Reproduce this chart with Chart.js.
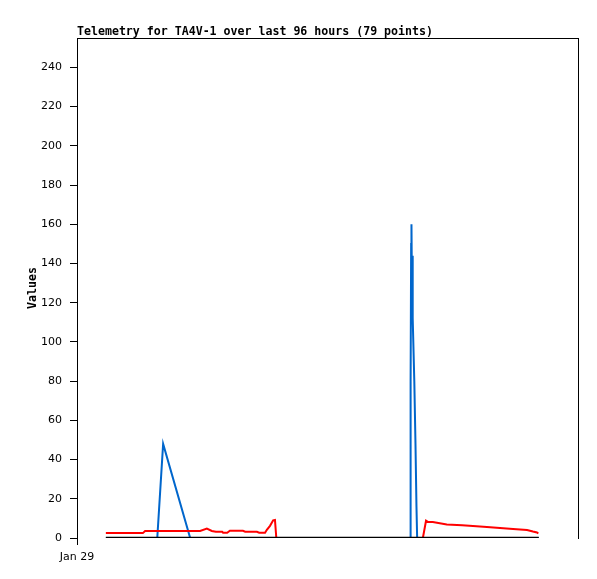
<!DOCTYPE html>
<html>
<head>
<meta charset="utf-8">
<title>Telemetry</title>
<script src="https://cdn.jsdelivr.net/npm/chart.js@4/dist/chart.umd.min.js"></script>
<style>
  body { margin: 0; background: #fff; }
  canvas { display: block; }
</style>
</head>
<body>
<canvas id="telemetryChart" width="597" height="579"></canvas>
<script>
// hours since Jan 29 00:00
const chartTitle = 'Telemetry for TA4V-1 over last 96 hours (79 points)';
const xTickLabels = ['Jan 29'];
const yTicks = [0, 20, 40, 60, 80, 100, 120, 140, 160, 180, 200, 220, 240];

const redHours = [6.4, 14.6, 15.1, 27.3, 28.8, 29.9, 30.8, 32.2, 32.4, 33.3, 33.9, 36.8, 37.3, 39.9, 40.4, 41.7, 42.1, 42.8, 43.5, 43.9, 44.2, 55.0, 65.0, 76.7, 77.4, 77.8, 78.9, 82.0, 85.4, 87.8, 90.9, 93.8, 96.7, 99.8, 101.1, 102.0, 102.3];
const redValues = [2.5, 2.5, 3.6, 3.6, 4.8, 3.6, 3.2, 3.2, 2.7, 2.7, 3.7, 3.7, 3.2, 3.2, 2.7, 2.7, 4.2, 6.2, 9.0, 9.2, 0, 0, 0, 0, 8.8, 8.2, 8.2, 6.9, 6.5, 6.1, 5.6, 5.1, 4.6, 4.1, 3.3, 2.8, 2.3];

const blueHours = [6.4, 17.8, 19.1, 25.1, 50.0, 73.9, 73.98, 74.1, 74.17, 74.3, 74.39, 74.5, 74.8, 75.06, 75.28, 75.43, 90.0, 102.4];
const blueValues = [0, 0, 48, 0, 0, 0, 80, 150, 160, 120, 144, 112, 80, 48, 16, 0, 0, 0];

const baseHours = [6.4, 30.0, 60.0, 90.0, 102.4];
const baseValues = [0, 0, 0, 0, 0];

function toPoints(xs, ys) {
    return xs.map((x, i) => ({ x: x, y: ys[i] }));
}

const monoBold = { family: '"DejaVu Sans Mono", monospace', size: 11.6, weight: 'bold' };
const tickFont = { family: '"DejaVu Sans", sans-serif', size: 11 };

// title sits on the left edge of the plot, not the canvas
const titlePlugin = {
    id: 'topTitle',
    afterDraw(chart) {
        const ctx = chart.ctx;
        ctx.save();
        ctx.font = 'bold 11.6px "DejaVu Sans Mono", monospace';
        ctx.fillStyle = '#000';
        ctx.textAlign = 'left';
        ctx.textBaseline = 'alphabetic';
        ctx.fillText(chartTitle, chart.chartArea.left, chart.chartArea.top - 3);
        ctx.restore();
    }
};

const ctx = document.getElementById('telemetryChart').getContext('2d');
new Chart(ctx, {
    type: 'line',
    data: {
        datasets: [
            {
                label: 'base',
                data: toPoints(baseHours, baseValues),
                borderColor: '#000000',
                borderWidth: 2.5,
                pointRadius: 0,
                order: 0
            },
            {
                label: 'red',
                data: toPoints(redHours, redValues),
                borderColor: '#ff0000',
                borderWidth: 2,
                pointRadius: 0,
                order: 1
            },
            {
                label: 'blue',
                data: toPoints(blueHours, blueValues),
                borderColor: '#0066cc',
                borderWidth: 2,
                pointRadius: 0,
                order: 2
            }
        ]
    },
    options: {
        responsive: false,
        animation: false,
        layout: { padding: { left: 0, top: 38, right: 19, bottom: 0 } },
        plugins: {
            legend: { display: false },
            tooltip: { enabled: false },
            title: { display: false }
        },
        elements: { line: { tension: 0 } },
        scales: {
            x: {
                type: 'linear',
                position: 'bottom',
                min: 0,
                max: 111.1,
                afterBuildTicks: (scale) => { scale.ticks = [{ value: 0 }]; },
                afterFit: (scale) => { scale.height = 41; },
                ticks: {
                    color: '#000',
                    font: tickFont,
                    padding: 6,
                    maxRotation: 0,
                    callback: (v, i) => xTickLabels[i]
                },
                grid: { drawOnChartArea: false, tickLength: 7, color: '#000' },
                border: { display: false }
            },
            xTop: {
                type: 'linear',
                position: 'top',
                min: 0,
                max: 111.1,
                ticks: { display: false },
                grid: { display: false },
                border: { display: true, color: '#000', width: 1 },
                afterFit: (scale) => { scale.height = 0; }
            },
            y: {
                position: 'left',
                min: 0,
                max: 255,
                afterBuildTicks: (scale) => { scale.ticks = yTicks.map(v => ({ value: v })); },
                afterFit: (scale) => { scale.width = 77; },
                ticks: { color: '#000', font: tickFont, padding: 8 },
                grid: { drawOnChartArea: false, tickLength: 7, color: '#000' },
                border: { display: true, color: '#000', width: 1 },
                title: { display: true, text: 'Values', color: '#000', font: monoBold, padding: { top: 26, bottom: 0 } }
            },
            yRight: {
                position: 'right',
                min: 0,
                max: 255,
                ticks: { display: false },
                grid: { display: false },
                border: { display: true, color: '#000', width: 1 },
                afterFit: (scale) => { scale.width = 0; }
            }
        }
    },
    plugins: [titlePlugin]
});
</script>
</body>
</html>
